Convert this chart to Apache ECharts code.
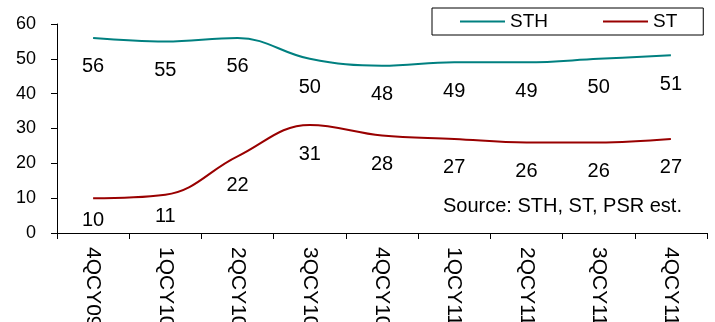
<!DOCTYPE html>
<html>
<head>
<meta charset="utf-8">
<script src="https://cdn.jsdelivr.net/npm/echarts@6/dist/echarts.min.js"></script>
<style>
  html, body { margin: 0; padding: 0; background: #fff; }
  #chart { width: 715px; height: 322px; }
</style>
</head>
<body>
<div id="chart"></div>
<script>
// Quarterly values for STH and ST
const quarters = ['4QCY09', '1QCY10', '2QCY10', '3QCY10', '4QCY10', '1QCY11', '2QCY11', '3QCY11', '4QCY11'];
const sthValues = [56, 55, 56, 50, 48, 49, 49, 50, 51];
const stValues = [10, 11, 22, 31, 28, 27, 26, 26, 27];
const yTicks = [0, 10, 20, 30, 40, 50, 60];
const sourceNote = 'Source: STH, ST, PSR est.';

const FONT = '"Liberation Sans", Arial, sans-serif';

// Labels sitting near the x axis are pulled a little closer to their line
function withLabels(values, closer) {
  return values.map((v, i) => closer.includes(i)
    ? { value: v, label: { distance: 12 } }
    : v);
}

function lineSeries(name, values, color, closer) {
  return {
    name: name,
    type: 'line',
    data: withLabels(values, closer),
    smooth: 0.4,
    symbol: 'circle',
    symbolSize: 0,
    lineStyle: { color: color, width: 2 },
    itemStyle: { color: color },
    label: {
      show: true,
      position: 'bottom',
      distance: 19,
      color: '#000',
      fontFamily: FONT,
      fontSize: 20
    },
    emphasis: { disabled: true }
  };
}

const chart = echarts.init(document.getElementById('chart'));
chart.setOption({
  animation: false,
  backgroundColor: '#fff',
  grid: { left: 57, right: 8, top: 24, bottom: 89, containLabel: false, outerBoundsMode: 'none' },
  legend: {
    data: ['STH', 'ST'],
    left: 432,
    top: 8,
    padding: [4, 26, 4, 28],
    borderColor: '#000',
    borderWidth: 1,
    itemGap: 55,
    itemWidth: 45,
    itemHeight: 2,
    icon: 'rect',
    textStyle: { color: '#000', fontFamily: FONT, fontSize: 19, padding: [0, 0, 0, 0] }
  },
  xAxis: {
    type: 'category',
    data: quarters,
    boundaryGap: true,
    axisLine: { lineStyle: { color: '#000', width: 1 } },
    axisTick: { show: true, length: 6, alignWithLabel: false, lineStyle: { color: '#000' } },
    axisLabel: {
      rotate: -90,
      margin: 14,
      color: '#000',
      fontFamily: FONT,
      fontSize: 21,
      interval: 0
    },
    splitLine: { show: false }
  },
  yAxis: {
    type: 'value',
    min: yTicks[0],
    max: yTicks[yTicks.length - 1],
    interval: yTicks[1] - yTicks[0],
    axisLine: { show: true, lineStyle: { color: '#000', width: 1 } },
    axisTick: { show: true, length: 6, lineStyle: { color: '#000' } },
    axisLabel: { margin: 21, color: '#000', fontFamily: FONT, fontSize: 18 },
    splitLine: { show: false }
  },
  graphic: [{
    type: 'text',
    left: 443,
    top: 196,
    style: { text: sourceNote, fill: '#000', font: '20px ' + FONT }
  }],
  series: [
    lineSeries('STH', sthValues, '#008080', []),
    lineSeries('ST', stValues, '#990000', [0, 1])
  ]
});
</script>
</body>
</html>
